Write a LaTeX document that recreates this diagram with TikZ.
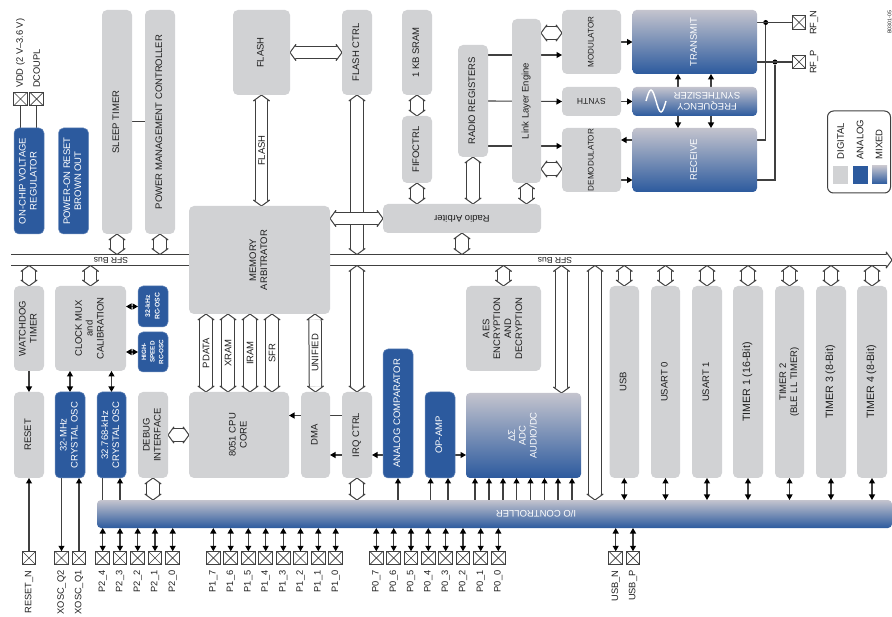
\documentclass[tikz,border=0pt]{standalone}
\usepackage{fontspec}
\setmainfont{Liberation Sans}
\usepackage{graphicx}
\usetikzlibrary{arrows.meta,calc}
\definecolor{gbox}{HTML}{D1D2D4}
\definecolor{bbox}{HTML}{2C5A9E}
\definecolor{mtop}{HTML}{C4C4CE}
\definecolor{linec}{HTML}{404040}
\definecolor{txtc}{HTML}{1E1E1E}
\pgfdeclarelayer{bg}
\pgfsetlayers{bg,main}
\pgfdeclarearrow{
  name=HH,
  cache=false,
  bending mode=none,
  setup code={\pgfarrowssettipend{5.5pt}\pgfarrowssetlineend{0.2pt}\pgfarrowssetbackend{-1pt}\pgfarrowssetvisualbackend{0pt}\pgfarrowsupperhullpoint{0pt}{8pt}\pgfarrowsupperhullpoint{5.5pt}{0pt}},
  drawing code={
    \pgfsetdash{}{0pt}\pgfsetlinewidth{1pt}\pgfsetroundjoin\pgfsetroundcap
    \pgfsetfillcolor{white}
    \pgfpathmoveto{\pgfqpoint{0pt}{8pt}}
    \pgfpathlineto{\pgfqpoint{5.5pt}{0pt}}
    \pgfpathlineto{\pgfqpoint{0pt}{-8pt}}
    \pgfpathclose
    \pgfusepathqfill
    \pgfpathmoveto{\pgfqpoint{0pt}{6.2pt}}
    \pgfpathlineto{\pgfqpoint{-0.3pt}{8pt}}
    \pgfpathlineto{\pgfqpoint{5.5pt}{0pt}}
    \pgfpathlineto{\pgfqpoint{-0.3pt}{-8pt}}
    \pgfpathlineto{\pgfqpoint{0pt}{-6.2pt}}
    \pgfusepathqstroke
  }
}
\tikzset{
  base/.style={inner sep=0pt,outer sep=0pt,align=center,font=\fontsize{9.5}{10.9}\selectfont},
  gb/.style={base,rounded corners=5pt,fill=gbox,text=txtc},
  bb/.style={base,rounded corners=5pt,fill=bbox,draw=bbox!70!white,line width=0.5pt,text=white},
  mb/.style={base,rounded corners=4pt,top color=mtop,bottom color=bbox,text=white},
  txtd/.style={base,text=txtc},
  txtw/.style={base,text=white},
  hol/.style={draw=linec,line width=1pt,double=white,double distance=11.4pt,{HH}-{HH}},
  holbus/.style={draw=linec,line width=1pt,double=white,double distance=10pt},
  thin line/.style={draw=linec,line width=1.1pt},
  tipa/.style={thin line,-{Triangle[length=5.5pt,width=6pt,color=black]}},
  tipb/.style={thin line,{Triangle[length=5.5pt,width=6pt,color=black]}-{Triangle[length=5.5pt,width=6pt,color=black]}},
  pinbox/.style={inner sep=0pt,outer sep=0pt,minimum size=13.5pt,draw=linec,line width=1pt,fill=white,
    path picture={\draw[linec,line width=0.7pt] (path picture bounding box.north west)--(path picture bounding box.south east)
    (path picture bounding box.south west)--(path picture bounding box.north east);}},
  pinlab/.style={rotate=90,anchor=east,inner sep=0pt,outer sep=0pt,text=txtc,font=\fontsize{9.3}{11}\selectfont},
  junc/.style={circle,fill=black,inner sep=0pt,minimum size=5pt},
}
\newcommand\myrot[1]{\rotatebox{90}{\begin{tabular}{@{}c@{}}#1\end{tabular}}}
\newcommand\myblk[7]{\node[#2,minimum width={(#5-#3)*1pt},minimum height={(#6-#4)*1pt}] (#1) at ({(#3+#5)/2},{(#4+#6)/2}) {#7};}
\newcommand\mypin[4]{\node[pinbox] (#1) at (#2,#3) {}; }
\newcommand\myplab[4]{\node[pinlab] (#1l) at (#2,#3) {#4};}
\begin{document}
\begin{tikzpicture}[x=1pt,y=-1pt]
\useasboundingbox (0,0) rectangle (892,617);
% ---------- blocks
\myblk{vreg}{bb}{14}{128}{44}{234}{\myrot{ON-CHIP VOLTAGE\\REGULATOR}}
\myblk{por}{bb}{58.5}{128}{88.5}{234}{\myrot{POWER-ON RESET\\BROWN OUT}}
\myblk{sleep}{gb}{102}{10}{132}{234}{\myrot{SLEEP TIMER}}
\myblk{pmc}{gb}{145}{10}{175}{234}{\myrot{POWER MANAGEMENT CONTROLLER}}
\myblk{flash}{gb}{233}{10}{290}{95}{\myrot{FLASH}}
\myblk{marb}{gb}{189}{206}{330}{314}{\myrot{MEMORY\\ARBITRATOR}}
\myblk{fctrl}{gb}{342}{10}{372}{95}{\myrot{FLASH CTRL}}
\myblk{sram}{gb}{402}{10}{432}{95}{\myrot{1 KB SRAM}}
\myblk{fifo}{gb}{402}{116}{432}{183}{\myrot{FIFOCTRL}}
\myblk{rreg}{gb}{458}{45}{488}{157}{\myrot{RADIO REGISTERS}}
\myblk{link}{gb}{512}{19}{541}{183}{\myrot{Link Layer Engine}}
\myblk{mod}{gb,font=\fontsize{8.1}{10}\selectfont}{562}{10}{621}{74}{\myrot{MODULATOR}}
\myblk{syn}{gb}{562}{87}{621}{116}{\rotatebox{180}{\fontsize{8.5}{10}\selectfont SYNTH}}
\myblk{dem}{gb,font=\fontsize{8.1}{10}\selectfont}{562}{128}{621}{192}{\myrot{DEMODULATOR}}
\myblk{arb}{gb}{383}{204}{541}{233}{\rotatebox{180}{Radio Arbiter}}
\myblk{tx}{mb}{632.5}{10}{757}{74}{\myrot{TRANSMIT}}
\myblk{fs}{mb}{632.5}{87}{757}{116}{}
\node[txtw,rotate=180] (fst) at (707,101.5) {FREQUENCY\\SYNTHESIZER};
\draw[white,line width=1.4pt] (646,101) sin (651,90) cos (656,101) sin (661,112) cos (666,101);
\myblk{rx}{mb}{632.5}{128}{757}{192}{\myrot{RECEIVE}}
\myblk{wdg}{gb}{14}{286}{44}{371}{\myrot{WATCHDOG\\TIMER}}
\myblk{cmux}{gb}{55}{286}{126}{371}{\myrot{CLOCK MUX\\and\\CALIBRATION}}
\myblk{rc32}{bb,font=\fontsize{6.8}{9.4}\selectfont\bfseries}{138}{286}{168}{327}{\myrot{32-kHz\\RC-OSC}}
\myblk{rchs}{bb,font=\fontsize{6.3}{8.6}\selectfont\bfseries}{138}{332}{168}{372}{\myrot{HIGH-\\SPEED\\RC-OSC}}
\myblk{rst}{gb}{14}{392}{44}{478}{\myrot{RESET}}
\myblk{xo32}{bb}{55}{392}{85}{478}{\myrot{32-MHz\\CRYSTAL OSC}}
\myblk{xo768}{bb}{97}{392}{126}{478}{\myrot{32.768-kHz\\CRYSTAL OSC}}
\myblk{dbg}{gb}{138}{392}{168}{478}{\myrot{DEBUG\\INTERFACE}}
\myblk{cpu}{gb}{189}{392}{289}{478}{\myrot{8051 CPU\\CORE}}
\myblk{dma}{gb}{301}{392}{330}{478}{\myrot{DMA}}
\myblk{irq}{gb}{342}{392}{372}{478}{\myrot{IRQ CTRL}}
\myblk{acmp}{bb}{383}{349}{413}{478}{\myrot{ANALOG COMPARATOR}}
\myblk{opamp}{bb}{425}{392}{455}{478}{\myrot{OP-AMP}}
\myblk{adc}{mb}{466}{393}{581}{478}{\myrot{ΔΣ\\ADC\\AUDIO/DC}}
\myblk{aes}{gb}{466}{286}{541}{371}{\myrot{AES\\ENCRYPTION\\AND\\DECRYPTION}}
\myblk{usb}{gb}{609.5}{286}{639}{478}{\myrot{USB}}
\myblk{us0}{gb}{651}{286}{680}{478}{\myrot{USART 0}}
\myblk{us1}{gb}{692}{286}{722}{478}{\myrot{USART 1}}
\myblk{t1}{gb}{733}{286}{763}{478}{\myrot{\fontsize{10.6}{12}\selectfont TIMER 1 (16-Bit)}}
\myblk{t2}{gb}{775}{286}{804}{478}{\myrot{TIMER 2\\(BLE LL TIMER)}}
\myblk{t3}{gb}{816}{286}{846}{478}{\myrot{\fontsize{10.6}{12}\selectfont TIMER 3 (8-Bit)}}
\myblk{t4}{gb}{857}{286}{887}{478}{\myrot{\fontsize{10.6}{12}\selectfont TIMER 4 (8-Bit)}}
\myblk{io}{mb}{97}{500}{892}{528}{}
\node[txtw,rotate=180] (iot) at (536,514) {I/O CONTROLLER};
% ---------- pins
\mypin{pvdd}{20.5}{99}{}\mypin{pdc}{36.7}{99}{}
\node[pinlab,anchor=west] (pvddl) at (20.5,88) {VDD (2 V–3.6 V)};
\node[pinlab,anchor=west] (pdcl) at (36.7,88) {DCOUPL};
\mypin{prfn}{799}{22.5}{}\mypin{prfp}{799}{62}{}
\node[pinlab,anchor=east] (prfnl) at (814,10.5) {RF\_N};
\node[pinlab,anchor=east] (prfpl) at (814,50) {RF\_P};
\foreach \n/\x/\t in {prst/29/RESET\_N,pq2/61.5/XOSC\_Q2,pq1/79/XOSC\_Q1,
  p24/102.7/P2\_4,p23/120/P2\_3,p22/137.7/P2\_2,p21/155/P2\_1,p20/172.7/P2\_0,
  p17/213.3/P1\_7,p16/230.7/P1\_6,p15/248.3/P1\_5,p14/265.7/P1\_4,p13/283.3/P1\_3,p12/300.5/P1\_2,p11/318.3/P1\_1,p10/335.7/P1\_0,
  p07/376.3/P0\_7,p06/393.7/P0\_6,p05/411/P0\_5,p04/428.3/P0\_4,p03/445.7/P0\_3,p02/463/P0\_2,p01/480.7/P0\_1,p00/498.3/P0\_0,
  pun/615.7/USB\_N,pup/633/USB\_P}{
  \mypin{\n}{\x}{558}{}
  \myplab{\n}{\x}{570.5}{\t}
}
% ---------- legend
\node[draw=linec,line width=1pt,rounded corners=6pt,inner sep=0pt,outer sep=0pt,minimum width=63pt,minimum height=82pt] (leg) at (859,152) {};
\node[base,text=txtc,rotate=90,anchor=west] (lg1) at (840.5,159.5) {DIGITAL};
\node[base,text=txtc,rotate=90,anchor=west] (lg2) at (860,159.5) {ANALOG};
\node[base,text=txtc,rotate=90,anchor=west] (lg3) at (879,159.5) {MIXED};
\myblk{s1}{fill=gbox,inner sep=0pt}{833}{166}{848}{184}{}
\myblk{s2}{fill=bbox,inner sep=0pt}{853}{166}{868}{184}{}
\myblk{s3}{top color=mtop,bottom color=bbox,inner sep=0pt}{872}{166}{887}{184}{}
\node[inner sep=0pt,rotate=90,anchor=west,text=txtc,font=\fontsize{5.3}{6}\selectfont] (figid) at (889.5,34) {B0301-05};
% ---------- connectors
\coordinate (bt) at (0,254.5);
\coordinate (bb0) at (0,265.5);
\coordinate (bl) at (11,260);
\coordinate (br) at (892,260);
\begin{pgfonlayer}{bg}
\draw[holbus,-{HH}] (bl) -- (br);
\node[txtd,rotate=180,font=\fontsize{8.6}{9}\selectfont] (sfr1) at (111,260) {SFR Bus};
\node[txtd,rotate=180,font=\fontsize{8.6}{9}\selectfont] (sfr2) at (555,260) {SFR Bus};
% to the bus, from above
\foreach \a in {sleep,pmc,arb}{\draw[hol] (\a.south) -- (\a.south |- bt);}
\draw[hol] (fctrl.south) -- (fctrl.south |- bt);
% from the bus, below
\foreach \a in {wdg,cmux,aes,usb,us0,us1,t1,t2,t3,t4}{\draw[hol] (\a.north |- bb0) -- (\a.north);}
\draw[hol] (irq.north |- bb0) -- (irq.north);
\draw[hol] (561.5,265.5) coordinate (c1) -- (c1 |- adc.north);
\draw[hol] (595,265.5) coordinate (c2) -- (c2 |- io.north);
% memory paths
\draw[hol] (flash.south) -- node[txtd,rotate=90]{FLASH} (flash.south |- marb.north);
\draw[hol] (flash.east |- 0,52.5) -- (fctrl.west |- 0,52.5);
\foreach \n/\x/\t in {a1/206/PDATA,a2/228/XRAM,a3/250/IRAM,a4/272/SFR}{
  \draw[hol] (\x,314) coordinate (\n) -- node[txtd,rotate=90]{\t} (\n |- cpu.north);}
\draw[hol] (315,314) coordinate (a5) -- node[txtd,rotate=90]{UNIFIED} (dma.north);
% radio
\draw[hol] (sram.south) -- (fifo.north);
\draw[hol] (fifo.south) -- (fifo.south |- arb.north);
\draw[hol] (rreg.south) -- (rreg.south |- arb.north);
\draw[hol] (link.south) -- (link.south |- arb.north);
\draw[hol] (link.east |- 0,33) -- (mod.west |- 0,33);
\draw[hol] (link.east |- 0,169) -- (dem.west |- 0,169);
\draw[tipa] (rreg.east |- 0,55) -- (mod.west |- 0,55);
\draw[tipa] (rreg.east |- 0,101) -- (syn.west);
\draw[tipa] (rreg.east |- 0,146) -- (dem.west |- 0,146);
\draw[tipa] (mod.east |- tx.west) -- (tx.west);
\draw[tipa] (syn.east) -- (fs.west);
\draw[tipa] (rx.west |- 0,140) -- (dem.east |- 0,140);
\draw[tipa] (dem.east |- 0,180) -- (rx.west |- 0,180);
\foreach \x in {678,711}{
  \draw[tipa] (\x,87) coordinate (q) -- (q |- tx.south);
  \draw[tipa] (\x,116) coordinate (q) -- (q |- rx.north);
}
\node[junc] (j1) at (765.7,22.5) {};
\node[junc] (j2) at (775,62) {};
\draw[thin line] (tx.east |- prfn.west) -- (prfn.west);
\draw[thin line] (tx.east |- prfp.west) -- (prfp.west);
\draw[thin line] (rx.east |- 0,140) -| (j1);
\draw[thin line] (rx.east |- 0,180) -| (j2);
% power
\draw[thin line] (pvdd.south) -- (pvdd.south |- vreg.north);
\draw[thin line] (pdc.south) -- (pdc.south |- vreg.north);
\draw[thin line] (sleep.east |- 0,121.5) -- (pmc.west |- 0,121.5);
% clocks
\draw[tipb] (cmux.east |- rc32.west) -- (rc32.west);
\draw[tipb] (cmux.east |- rchs.west) -- (rchs.west);
\draw[tipb] (xo32.north |- cmux.south) -- (xo32.north);
\draw[tipb] (xo768.north |- cmux.south) -- (xo768.north);
\draw[tipa] (wdg.south) -- (rst.north);
\draw[tipa] (prst.north) -- (prst.north |- rst.south);
\draw[tipa] (pq2.north |- xo32.south) -- (pq2.north);
\draw[tipa] (pq1.north) -- (pq1.north |- xo32.south);
\draw[thin line] (p24.north |- xo768.south) -- (p24.north |- io.north);
\draw[tipa] (p23.north |- io.north) -- (p23.north |- xo768.south);
% cpu area
\draw[hol] (dbg.east |- cpu.east) -- (cpu.west);
\draw[hol] (dbg.south) -- (dbg.south |- io.north);
\draw[hol] (irq.south) -- (irq.south |- io.north);
\draw[tipa] (irq.west |- 0,415.5) -- (cpu.east |- 0,415.5);
\draw[tipa] (acmp.west |- 0,455) -- (irq.east |- 0,455);
\draw[tipa] (irq.west |- 0,455) -- (dma.east |- 0,455);
\draw[tipa] (opamp.east |- 0,455) -- (adc.west |- 0,455);
\draw[tipa] (acmp.south |- io.north) -- (acmp.south);
\foreach \x in {430.6,448}{\draw[tipa] (\x,500) coordinate (q) -- (q |- opamp.south);}
\foreach \x in {475,489,503,516.5,530.5,544.5,558,572}{\draw[tipa] (\x,500) coordinate (q) -- (q |- adc.south);}
\foreach \a in {usb,us0,us1,t1,t2,t3,t4}{\draw[tipb] (\a.south) -- (\a.south |- io.north);}
\foreach \a in {p24,p23,p22,p21,p20,p17,p16,p15,p14,p13,p12,p11,p10,p07,p06,p05,p04,p03,p02,p01,p00,pun,pup}{
  \draw[tipb] (\a.north) -- (\a.north |- io.south);}
% crossing: horizontal on top of vertical
\draw[hol] (marb.east |- arb.west) -- (arb.west);
\end{pgfonlayer}
\end{tikzpicture}
\end{document}
